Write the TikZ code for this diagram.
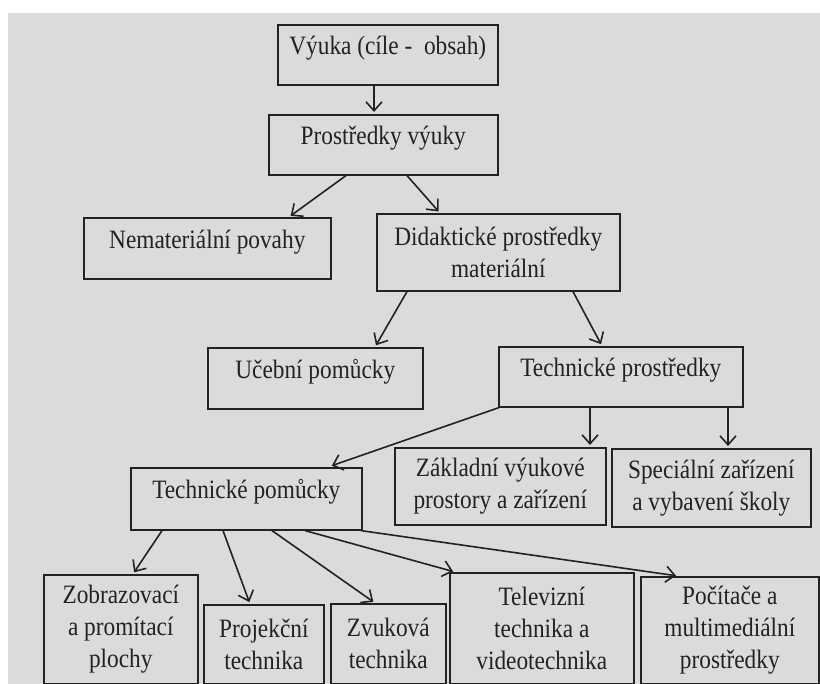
\documentclass[tikz,border=0pt]{standalone}
\usepackage{fontspec}
\setmainfont{Liberation Serif}[FakeStretch=0.88]
\usetikzlibrary{arrows.meta}
\definecolor{paper}{RGB}{219,219,217}
\definecolor{ink}{RGB}{34,34,34}

\begin{document}
\begin{tikzpicture}[x=1pt,y=-1pt,
    box/.style={draw=ink, line width=1.6pt, anchor=north west, inner sep=0pt,
        align=center, text=ink, font=\fontsize{26.5}{32}\selectfont},
    one/.style={text height=19pt, text depth=19pt},
    arr/.style={draw=ink, line width=1.6pt, -{Straight Barb[length=9pt,width=16pt]}, shorten >=2pt}]

    % paper
    \useasboundingbox (0,0) rectangle (820,684);
    \fill[white] (0,0) rectangle (820,684);
    \fill[paper] (8,13) rectangle (820,684);

    % draw boxes
    \node[box, one, minimum width=220pt, minimum height=60pt] (vyuka) at (277,24) {Výuka (cíle -\ \ obsah)};
    \node[box, one, minimum width=229pt, minimum height=60pt] (prostr) at (268,114) {Prostředky výuky};
    \node[box, one, minimum width=247pt, minimum height=61pt] (nemat) at (83,217) {Nemateriální povahy};
    \node[box, minimum width=243pt, minimum height=77pt] (didakt) at (376,213) {Didaktické prostředky\\materiální};
    \node[box, one, minimum width=215pt, minimum height=61pt] (ucebni) at (207,347) {Učební pomůcky};
    \node[box, one, minimum width=244pt, minimum height=60pt] (techpr) at (498,346) {Technické prostředky};
    \node[box, one, minimum width=231pt, minimum height=62pt] (techpom) at (130,467) {Technické pomůcky};
    \node[box, minimum width=211pt, minimum height=77pt] (zaklad) at (394,447) {Základní výukové\\prostory a zařízení};
    \node[box, minimum width=199pt, minimum height=78pt] (special) at (611,448) {Speciální zařízení\\a vybavení školy};
    \node[box, minimum width=154pt, minimum height=109pt] (zobraz) at (43,574) {Zobrazovací\\a promítací\\plochy};
    \node[box, minimum width=120pt, minimum height=79pt] (projek) at (203,604) {Projekční\\technika};
    \node[box, minimum width=115pt, minimum height=80pt] (zvuk) at (330,603) {Zvuková\\technika};
    \node[box, minimum width=184pt, minimum height=111pt] (televiz) at (449,572) {Televizní\\technika a\\videotechnika};
    \node[box, minimum width=178pt, minimum height=107pt] (pocit) at (640,576) {Počítače a\\multimediální\\prostředky};

    % draw arrows
    \draw[arr] ([xshift=97pt]vyuka.south west) -- ([xshift=106pt]prostr.north west);
    \draw[arr] ([xshift=78pt]prostr.south west) -- ([xshift=206pt]nemat.north west);
    \draw[arr] ([xshift=139pt]prostr.south west) -- ([xshift=64pt]didakt.north west);
    \draw[arr] ([xshift=31pt]didakt.south west) -- ([xshift=168pt]ucebni.north west);
    \draw[arr] ([xshift=197pt]didakt.south west) -- ([xshift=104pt]techpr.north west);
    \draw[arr, shorten >=4pt] ([xshift=1pt]techpr.south west) -- ([xshift=198pt]techpom.north west);
    \draw[arr] ([xshift=92pt]techpr.south west) -- ([xshift=196pt]zaklad.north west);
    \draw[arr] ([xshift=230pt]techpr.south west) -- ([xshift=117pt]special.north west);
    \foreach \s/\t/\e in {32/zobraz/90, 93/projek/47, 142/zvuk/45, 175/televiz/6, 231/pocit/38}
        \draw[arr] ([xshift=\s pt]techpom.south west) -- ([xshift=\e pt]\t.north west);
\end{tikzpicture}
\end{document}
